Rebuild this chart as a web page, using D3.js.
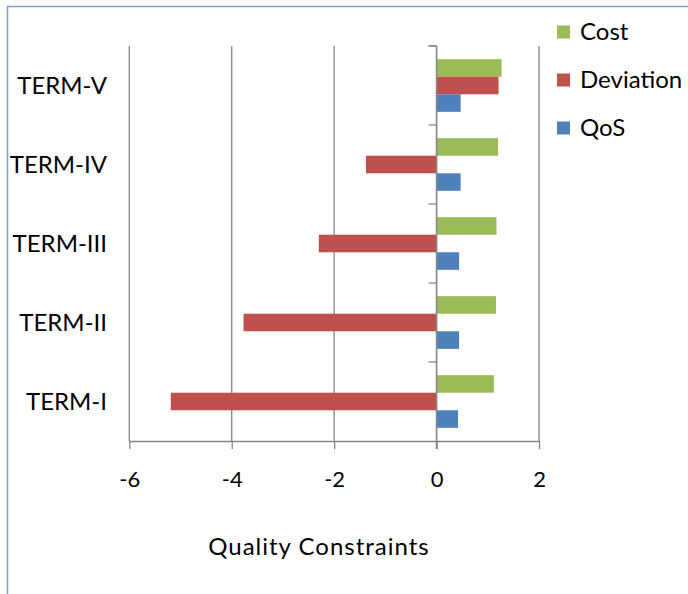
<!DOCTYPE html>
<html><head><meta charset="utf-8">
<script src="https://cdn.jsdelivr.net/npm/d3@7"></script>
<style>body{margin:0;background:#fff}svg{display:block}text{font-family:Lato,"Open Sans",sans-serif;fill:#000}</style>
</head><body><svg id="c" width="688" height="594"></svg>
<script>
const categories = ["TERM-I","TERM-II","TERM-III","TERM-IV","TERM-V"];
const seriesNames = ["Cost","Deviation","QoS"];
const costValues = [1.12,1.16,1.17,1.20,1.27];
const deviationValues = [-5.19,-3.77,-2.30,-1.38,1.21];
const qosValues = [0.42,0.44,0.44,0.47,0.47];
const xTicks = [-6,-4,-2,0,2];
const colors = {Cost:"#9BBB59",Deviation:"#C0504D",QoS:"#4F81BD"};
const seriesValues = {Cost:costValues,Deviation:deviationValues,QoS:qosValues};

const svg = d3.select("#c");
svg.append("rect").attr("x",7.5).attr("y",6.5).attr("width",700).attr("height",600)
  .attr("fill","none").attr("stroke","#7F9FD0").attr("stroke-width",1.5);

const x = d3.scaleLinear().domain([-6,2]).range([129.3,539]);
const y = d3.scaleBand().domain(categories.slice().reverse()).range([46,441]);
const inner = d3.scaleBand().domain(seriesNames).range([0,y.bandwidth()]).paddingOuter(0.75);

const grid = "#868686";
svg.append("g").selectAll("line").data(xTicks.filter(d=>d!==0)).join("line")
  .attr("x1",d=>x(d)).attr("x2",d=>x(d)).attr("y1",46).attr("y2",441)
  .attr("stroke",grid).attr("stroke-width",1.3);

const g = svg.append("g");
categories.forEach((c,i)=>{
  seriesNames.forEach(s=>{
    const v = seriesValues[s][i];
    g.append("rect")
      .attr("x",Math.min(x(0),x(v)))
      .attr("width",Math.abs(x(v)-x(0)))
      .attr("y",y(c)+inner(s))
      .attr("height",inner.bandwidth())
      .attr("fill",colors[s]);
  });
});

svg.append("line").attr("x1",x(0)).attr("x2",x(0)).attr("y1",46).attr("y2",449)
  .attr("stroke",grid).attr("stroke-width",1.6);
const bounds = categories.map(c=>y(c)).concat([46]);
svg.append("g").selectAll("line").data(bounds).join("line")
  .attr("x1",x(0)-8).attr("x2",x(0)).attr("y1",d=>d).attr("y2",d=>d)
  .attr("stroke",grid).attr("stroke-width",1.3);

const xa = svg.append("g").attr("transform","translate(0,441)")
  .call(d3.axisBottom(x).tickValues(xTicks).tickFormat(d=>String(d)).tickSize(8).tickSizeOuter(0).tickPadding(18));
xa.select(".domain").attr("stroke",grid).attr("stroke-width",1.6);
xa.selectAll(".tick line").attr("stroke",grid).attr("stroke-width",1.3);
xa.selectAll(".tick text").attr("font-size",22).attr("font-family","Lato,sans-serif").attr("fill","#000").attr("dy","0.9em");

svg.append("g").selectAll("text").data(categories).join("text")
  .attr("x",107).attr("y",c=>y(c)+y.bandwidth()/2).attr("dy","0.35em")
  .attr("text-anchor","end").attr("font-size",24).text(c=>c);

svg.append("text").attr("x",319).attr("y",547).attr("dy","0.35em")
  .attr("text-anchor","middle").attr("font-size",24).attr("letter-spacing",1).text("Quality Constraints");

const leg = svg.append("g");
seriesNames.forEach((s,i)=>{
  const yy = 32 + i*48;
  leg.append("rect").attr("x",557).attr("y",yy-6.5).attr("width",13).attr("height",13).attr("fill",colors[s]);
  leg.append("text").attr("x",580).attr("y",yy).attr("dy","0.35em").attr("font-size",24).text(s);
});
</script></body></html>
